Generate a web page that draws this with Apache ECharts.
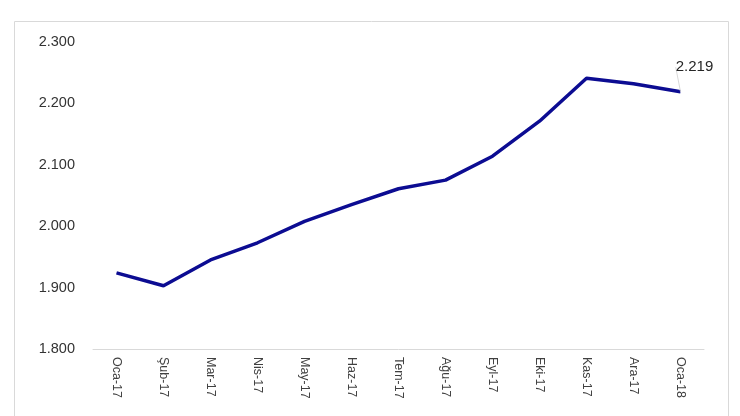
<!DOCTYPE html>
<html><head><meta charset="utf-8">
<script src="https://cdn.jsdelivr.net/npm/echarts@6/dist/echarts.min.js"></script>
<style>html,body{margin:0;padding:0;background:#fff}#c{width:740px;height:416px}</style>
</head><body><div id="c"></div>
<script>
const categories = ['Oca-17','Şub-17','Mar-17','Nis-17','May-17','Haz-17','Tem-17','Ağu-17','Eyl-17','Eki-17','Kas-17','Ara-17','Oca-18'];
const values = [1924, 1903, 1945, 1973, 2008, 2035, 2061, 2075, 2114, 2171, 2241, 2232, 2219];
const yTicks = { min: 1800, max: 2300, interval: 100 };

function fmt(v){ const s = String(Math.round(v)); return s.slice(0, s.length-3) + '.' + s.slice(-3); }

const seriesData = values.map((v, i) => i === values.length - 1
  ? { value: v, label: { show: true }, labelLine: { show: true } }
  : { value: v });

const chart = echarts.init(document.getElementById('c'));
chart.setOption({
  animation: false,
  graphic: [{ type: 'rect', shape: { x: 14.5, y: 21.5, width: 714, height: 420 }, style: { fill: 'none', stroke: '#d9d9d9', lineWidth: 1 } }],
  grid: { left: 93, right: 36, top: 42, bottom: 67 },
  xAxis: {
    type: 'category', data: categories, boundaryGap: true,
    axisLine: { lineStyle: { color: '#d9d9d9', width: 1 } },
    axisTick: { show: false },
    axisLabel: { rotate: -90, color: '#404040', fontFamily: 'Liberation Sans, Arial', fontSize: 12.5, margin: 8 }
  },
  yAxis: {
    type: 'value', min: yTicks.min, max: yTicks.max, interval: yTicks.interval,
    splitLine: { show: false }, axisLine: { show: false }, axisTick: { show: false },
    axisLabel: { color: '#333333', fontFamily: 'Liberation Sans, Arial', fontSize: 14.5, formatter: fmt, margin: 18 }
  },
  series: [{
    type: 'line', data: seriesData, symbol: 'circle', symbolSize: 0, showSymbol: true, smooth: false,
    itemStyle: { color: '#0c0c92' },
    lineStyle: { color: '#0c0c92', width: 3.5 },
    label: { show: false, position: 'top', distance: 2, formatter: p => fmt(p.value), color: '#262626', fontFamily: 'Liberation Sans, Arial', fontSize: 15 },
    labelLine: { show: false, lineStyle: { color: '#d9d9d9', width: 1 } },
    labelLayout: { dx: 14, dy: -15 }
  }]
});
</script></body></html>
